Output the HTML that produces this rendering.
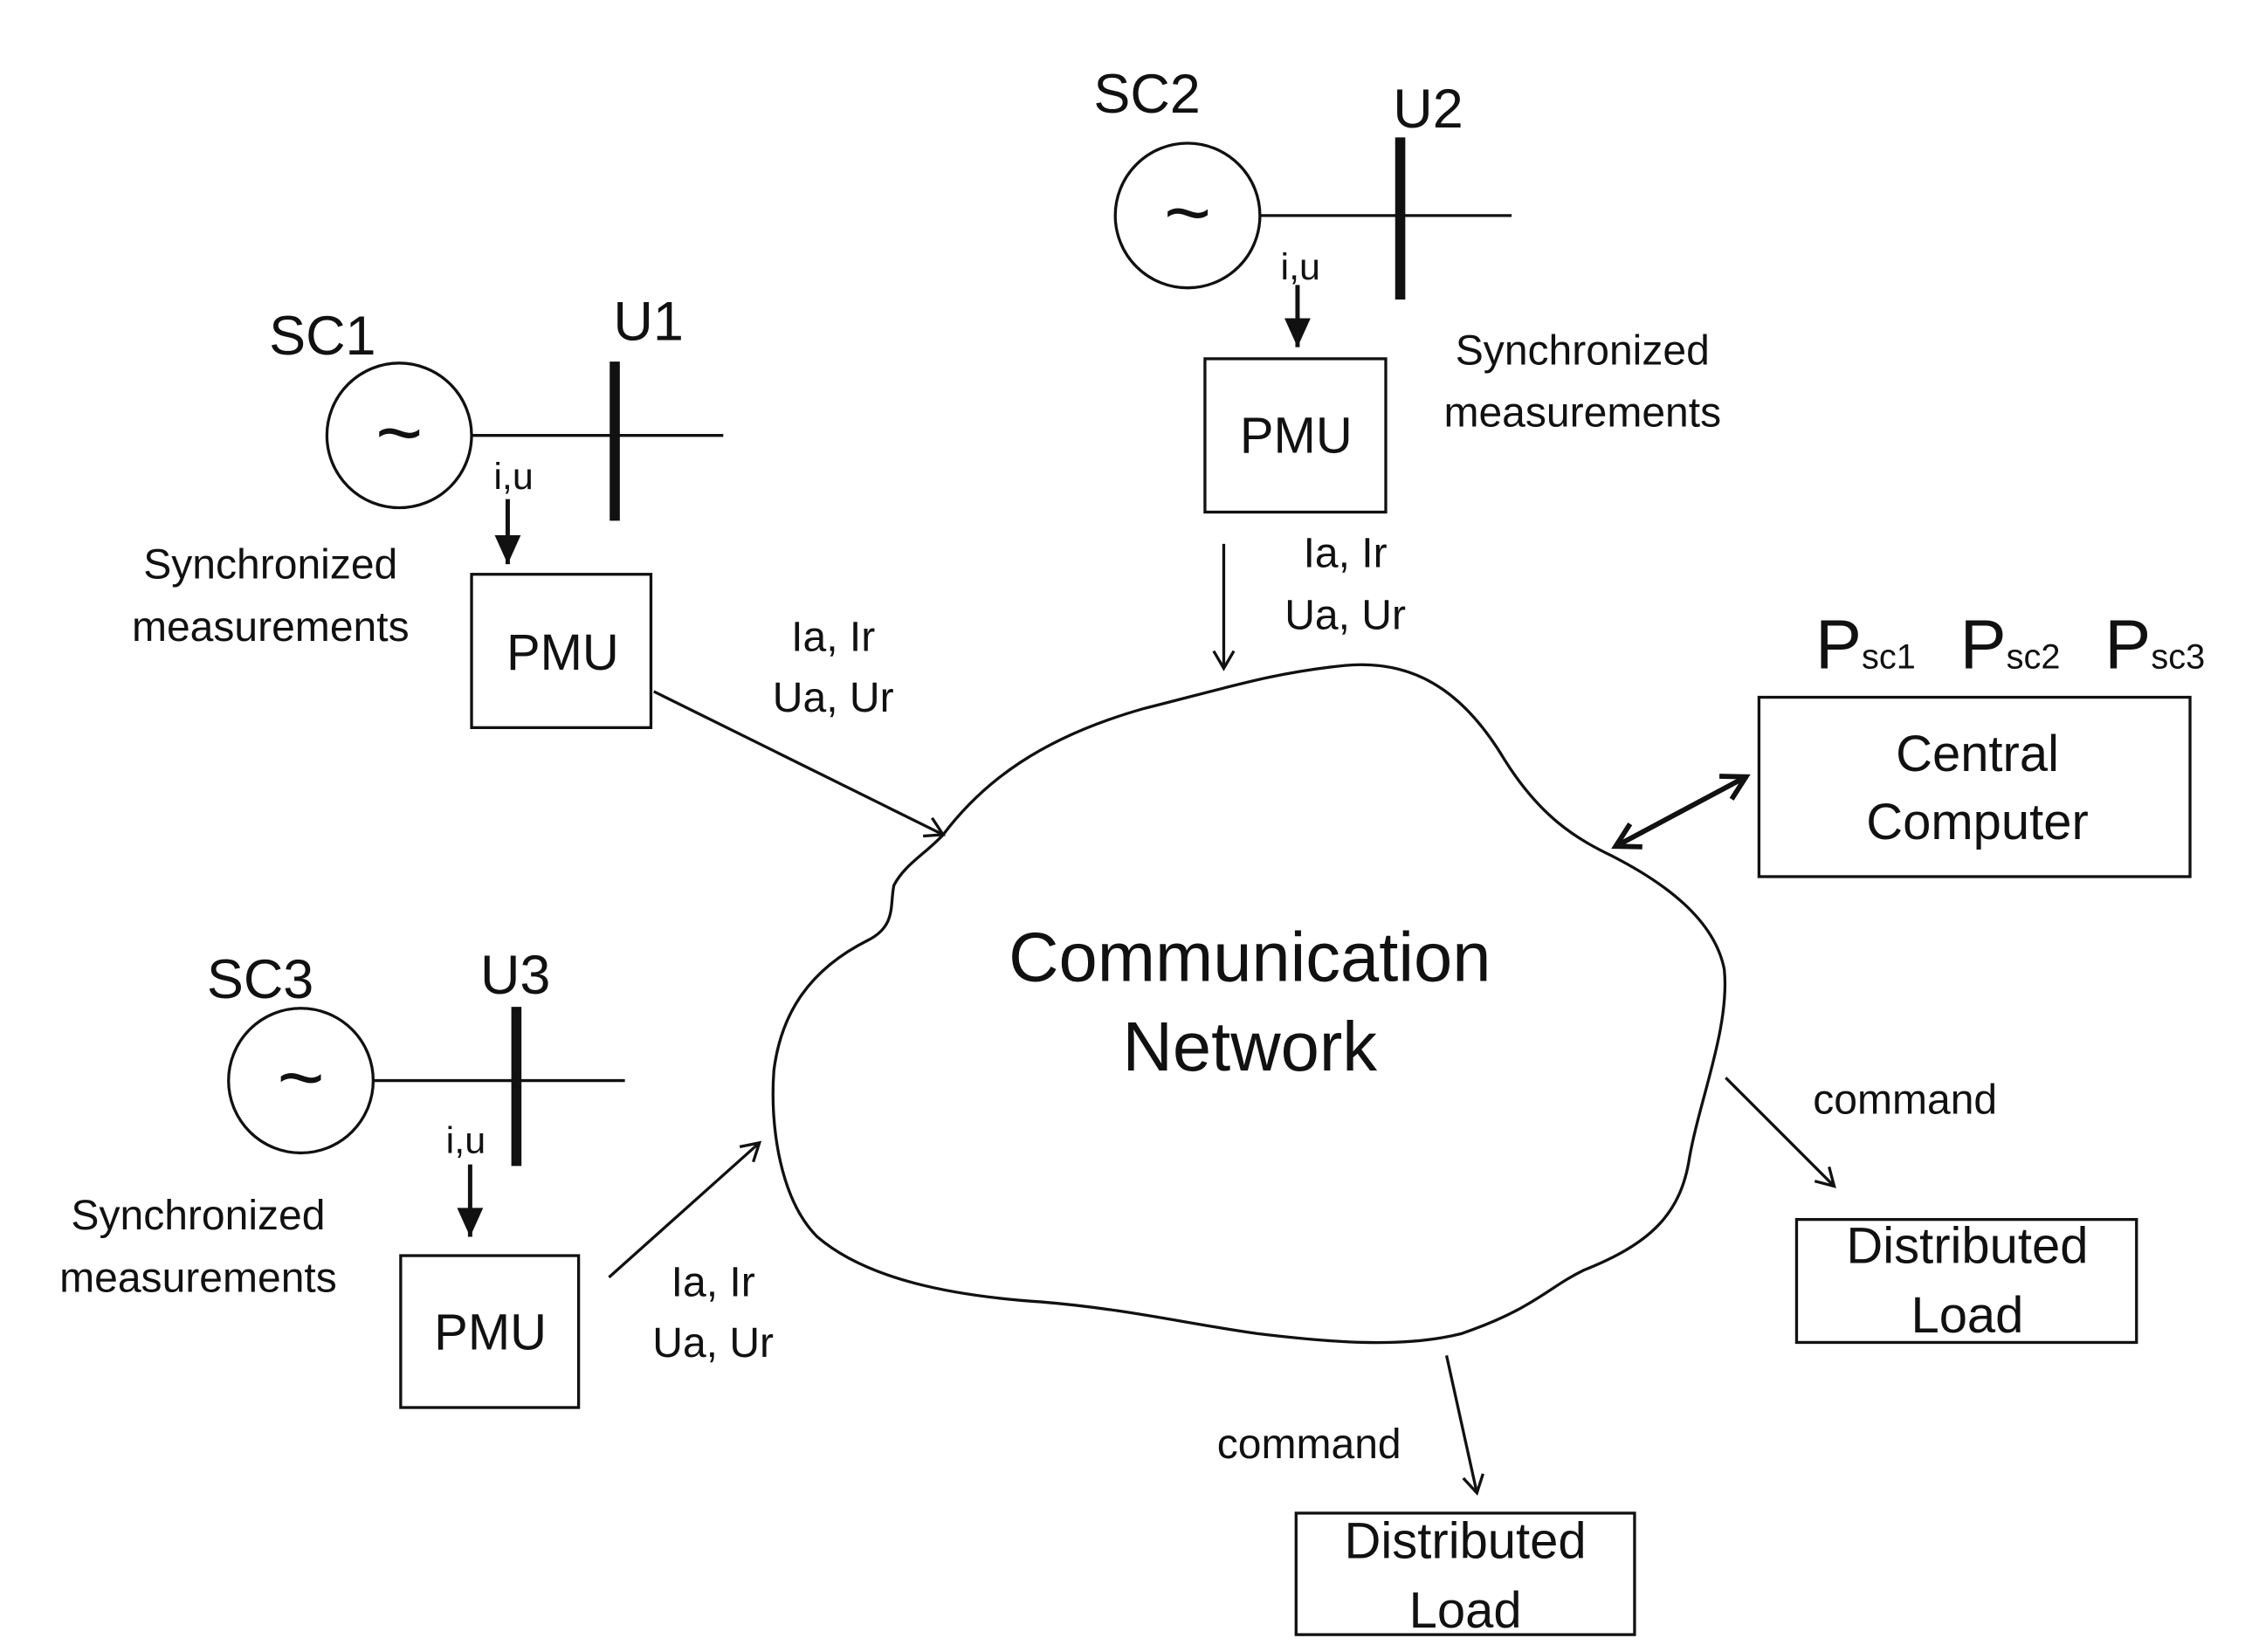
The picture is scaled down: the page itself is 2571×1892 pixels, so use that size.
<!DOCTYPE html>
<html><head><meta charset="utf-8"><style>html,body{margin:0;padding:0;background:#fff}svg{display:block}text{font-family:"Liberation Sans",sans-serif;fill:#111}</style></head><body>
<svg width="2571" height="1892" viewBox="0 0 1552 1142" preserveAspectRatio="none" xmlns="http://www.w3.org/2000/svg">
<defs>
<marker id="open" markerWidth="16" markerHeight="16" refX="13" refY="8" orient="auto" markerUnits="userSpaceOnUse"><path d="M1,1 L13,8 L1,15" fill="none" stroke="#111" stroke-width="2"/></marker>
<marker id="fill" markerWidth="24" markerHeight="24" refX="22" refY="12" orient="auto" markerUnits="userSpaceOnUse"><path d="M2,3 L22,12 L2,21 Z" fill="#111"/></marker>
<marker id="thick" markerWidth="24" markerHeight="24" refX="20" refY="12" orient="auto-start-reverse" markerUnits="userSpaceOnUse"><path d="M4,3 L20,12 L4,21" fill="none" stroke="#111" stroke-width="3.5"/></marker>
</defs>
<g stroke="#111" fill="none" stroke-width="2">
<circle cx="276" cy="301" r="50"/><line x1="326" y1="301" x2="500" y2="301"/>
<line x1="425" y1="250" x2="425" y2="360" stroke-width="7"/>
<line x1="351" y1="345" x2="351" y2="390" stroke-width="3" marker-end="url(#fill)"/>
<rect x="326" y="397" width="124" height="106"/>
<line x1="452" y1="478" x2="652" y2="577" marker-end="url(#open)"/>
<circle cx="821" cy="149" r="50"/><line x1="871" y1="149" x2="1045" y2="149"/>
<line x1="968" y1="95" x2="968" y2="207" stroke-width="7"/>
<line x1="897" y1="197" x2="897" y2="240" stroke-width="3" marker-end="url(#fill)"/>
<rect x="833" y="248" width="125" height="106"/>
<line x1="846" y1="376" x2="846" y2="462" marker-end="url(#open)"/>
<circle cx="208" cy="747" r="50"/><line x1="258" y1="747" x2="432" y2="747"/>
<line x1="357" y1="696" x2="357" y2="806" stroke-width="7"/>
<line x1="325" y1="805" x2="325" y2="855" stroke-width="3" marker-end="url(#fill)"/>
<rect x="277" y="868" width="123" height="105"/>
<line x1="421" y1="883" x2="525" y2="790" marker-end="url(#open)"/>
<path d="M652,577 C680,540 720,510 790,490 C850,475 880,465 930,460 C975,456 1010,475 1040,525 C1065,565 1090,580 1115,592 C1150,610 1185,635 1192,670 C1196,710 1175,760 1168,800 C1162,840 1140,860 1095,878 C1070,890 1060,905 1010,922 C970,932 920,928 870,922 C820,915 780,905 720,900 C660,896 600,885 565,855 C540,830 532,780 535,740 C540,700 560,670 600,650 C620,640 615,625 618,612 C625,598 640,590 652,577 Z"/>
<line x1="1117" y1="585" x2="1207" y2="537" stroke-width="3.5" marker-start="url(#thick)" marker-end="url(#thick)"/>
<rect x="1216" y="482" width="298" height="124"/>
<line x1="1193" y1="745" x2="1268" y2="820" marker-end="url(#open)"/>
<rect x="1242" y="843" width="235" height="85"/>
<line x1="1000" y1="937" x2="1021" y2="1032" marker-end="url(#open)"/>
<rect x="896" y="1046" width="234" height="84"/>
</g>
<g font-size="38">
<text x="186" y="245">SC1</text><text x="424" y="235">U1</text>
<text x="756" y="78">SC2</text><text x="963" y="88">U2</text>
<text x="143" y="690">SC3</text><text x="332" y="687">U3</text>
</g>
<g font-size="56" text-anchor="middle">
<text x="276" y="318">~</text><text x="821" y="166">~</text><text x="208" y="764">~</text>
</g>
<g font-size="26" text-anchor="middle">
<text x="355" y="338">i,u</text><text x="899" y="193">i,u</text><text x="322" y="797">i,u</text>
</g>
<g font-size="29" text-anchor="middle">
<text x="187" y="400">Synchronized</text><text x="187" y="443">measurements</text>
<text x="1094" y="252">Synchronized</text><text x="1094" y="295">measurements</text>
<text x="137" y="850">Synchronized</text><text x="137" y="893">measurements</text>
<text x="576" y="450">Ia, Ir</text><text x="576" y="492">Ua, Ur</text>
<text x="930" y="392">Ia, Ir</text><text x="930" y="435">Ua, Ur</text>
<text x="493" y="896">Ia, Ir</text><text x="493" y="938">Ua, Ur</text>
<text x="1317" y="770">command</text><text x="905" y="1008">command</text>
</g>
<g font-size="35" text-anchor="middle">
<text x="389" y="463">PMU</text><text x="896" y="313">PMU</text><text x="339" y="933">PMU</text>
<text x="1367" y="533">Central</text><text x="1367" y="580">Computer</text>
<text x="1360" y="873">Distributed</text><text x="1360" y="921">Load</text>
<text x="1013" y="1077">Distributed</text><text x="1013" y="1125">Load</text>
</g>
<g font-size="48" text-anchor="middle">
<text x="864" y="678">Communication</text><text x="864" y="740">Network</text>
</g>
<g font-size="48">
<text x="1255" y="462">P<tspan font-size="24">sc1</tspan></text>
<text x="1355" y="462">P<tspan font-size="24">sc2</tspan></text>
<text x="1455" y="462">P<tspan font-size="24">sc3</tspan></text>
</g>
</svg>
</body></html>
